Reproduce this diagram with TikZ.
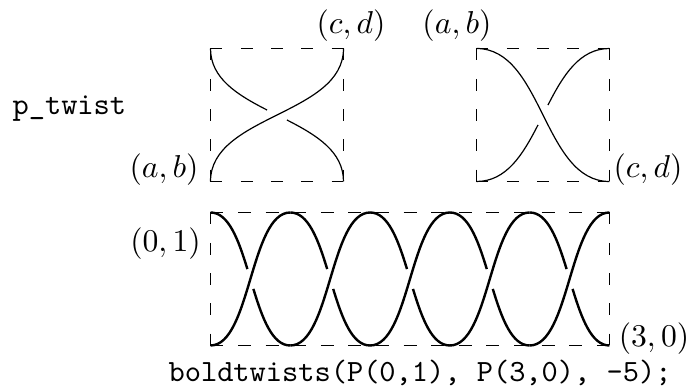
\documentclass[tikz,border=0pt]{standalone}
\newcommand{\mlab}[1]{\scalebox{1.055}{$#1$}}
\newcommand{\clab}[1]{\scalebox{1.03}{\ttfamily #1}}
\tikzset{
  boxedge/.style={line width=.4pt,line cap=butt,dash pattern=on 3.93pt off 6.17pt},
  longedge/.style={line width=.4pt,line cap=butt,dash pattern=on 4.33pt off 4.87pt},
  strand/.style={line width=.4pt},
  boldstrand/.style={line width=.8pt},
  lbl/.style={inner sep=0pt,anchor=base},
  code/.style={inner sep=0pt,anchor=base west},
}
\begin{document}
\begin{tikzpicture}[x=.33333pt,y=-.33333pt]
\useasboundingbox (0,0) rectangle (689,390);
% left box
\coordinate (A1) at (210.5,48.5); \coordinate (A2) at (343.5,48.5);
\coordinate (A3) at (343.5,181.5);  \coordinate (A4) at (210.5,181.5);
\draw[boxedge] (A1)--(A2); \draw[boxedge] (A2)--(A3);
\draw[boxedge] (A4)--(A3); \draw[boxedge] (A1)--(A4);
\begin{scope}[shift={(210.5,181.5)},xscale=133,yscale=-133]
  \draw[strand] (0,0) .. controls (0,.5) and (1,.5) .. (1,1);
  \draw[strand] (0,1) .. controls (0,.775) and (.2025,.65125) .. (.42525,.5376);
  \draw[strand] (1,0) .. controls (1,.225) and (.7975,.34875) .. (.57475,.4624);
\end{scope}
% right box
\coordinate (B1) at (476.5,48.5); \coordinate (B2) at (609.5,48.5);
\coordinate (B3) at (609.5,181.5);  \coordinate (B4) at (476.5,181.5);
\draw[boxedge] (B1)--(B2); \draw[boxedge] (B2)--(B3);
\draw[boxedge] (B4)--(B3); \draw[boxedge] (B1)--(B4);
\begin{scope}[shift={(476.5,181.5)},xscale=133,yscale=-133]
  \draw[strand] (0,1) .. controls (.5,1) and (.5,0) .. (1,0);
  \draw[strand] (0,0) .. controls (.225,0) and (.34875,.2025) .. (.4624,.42525);
  \draw[strand] (1,1) .. controls (.775,1) and (.65125,.7975) .. (.5376,.57475);
\end{scope}
% bottom box
\coordinate (C1) at (210.5,212.5); \coordinate (C2) at (609.5,212.5);
\coordinate (C3) at (609.5,345.5);  \coordinate (C4) at (210.5,345.5);
\draw[longedge] (C1)--(C2); \draw[boxedge] (C2)--(C3);
\draw[longedge] (C4)--(C3); \draw[boxedge] (C1)--(C4);
\foreach \k in {0,...,4}{
  \begin{scope}[shift={(210.5+79.8*\k,345.5)},xscale=79.8,yscale=-133]
    \draw[boldstrand] (0,0) .. controls (.5,0) and (.5,1) .. (1,1);
    \draw[boldstrand] (0,1) .. controls (.225,1) and (.34875,.7975) .. (.4624,.57475);
    \draw[boldstrand] (1,0) .. controls (.775,0) and (.65125,.2025) .. (.5376,.42525);
  \end{scope}
}
% labels
\node[lbl] (lcd) at (351,34) {\mlab{(c,d)}};
\node[lbl] (lab) at (164,178) {\mlab{(a,b)}};
\node[lbl] (rab) at (457,34) {\mlab{(a,b)}};
\node[lbl] (rcd) at (648,178) {\mlab{(c,d)}};
\node[lbl] (zo) at (165.5,252) {\mlab{(0,1)}};
\node[lbl] (tz) at (654,347) {\mlab{(3,0)}};
\node[code] (pt) at (12,115) {\clab{p\_twist}};
\node[code] (bt) at (168,381.5) {\clab{boldtwists(P(0,1), P(3,0), -5);}};
\end{tikzpicture}
\end{document}
